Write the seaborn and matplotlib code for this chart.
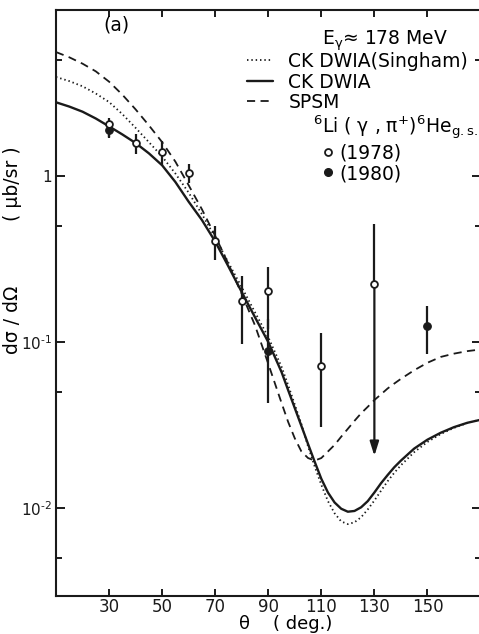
import numpy as np
import pandas as pd
import matplotlib
matplotlib.use("Agg")
import matplotlib.pyplot as plt
import seaborn as sns
from matplotlib.ticker import LogLocator, NullFormatter, FixedLocator, FixedFormatter
from matplotlib.lines import Line2D

# ---------------- data ----------------
theta_curve = [10, 15, 20, 25, 30, 35, 40, 45, 50, 55, 60, 65, 70, 75, 80, 85, 90, 95,
               97.5, 100, 102.5, 105, 107.5, 110, 112.5, 115, 117.5, 120, 122.5, 125,
               127.5, 130, 132.5, 135, 137.5, 140,
               145, 150, 155, 160, 165, 170]
ck_dwia_singham = [3.95, 3.73, 3.47, 3.14, 2.79, 2.36, 1.95, 1.60, 1.31, 1.035, 0.794, 0.589,
                   0.427, 0.300, 0.214, 0.151, 0.107, 0.071,
                   0.055, 0.042, 0.032, 0.0235, 0.0178, 0.0138, 0.0110, 0.0093, 0.0083, 0.0080,
                   0.0082, 0.0088, 0.0098, 0.0111, 0.0127, 0.0145, 0.0163, 0.0181,
                   0.0217, 0.0250, 0.0279, 0.0304, 0.0325, 0.0341]
ck_dwia = [2.78, 2.62, 2.44, 2.22, 1.99, 1.78, 1.58, 1.37, 1.16, 0.92, 0.70, 0.543,
           0.403, 0.285, 0.200, 0.141, 0.100, 0.066,
           0.0513, 0.040, 0.0312, 0.0243, 0.0190, 0.0150, 0.0124, 0.0108, 0.0099, 0.0095,
           0.0096, 0.0101, 0.0110, 0.0124, 0.0141, 0.0158, 0.0176, 0.0193,
           0.0228, 0.0258, 0.0284, 0.0307, 0.0326, 0.0340]
spsm = [5.58, 5.19, 4.75, 4.27, 3.70, 3.09, 2.52, 2.02, 1.60, 1.22, 0.88, 0.63,
        0.436, 0.295, 0.195, 0.126, 0.074, 0.043,
        0.033, 0.0263, 0.0219, 0.0200, 0.0193, 0.0200, 0.0219, 0.0240, 0.0269, 0.030,
        0.0335, 0.0372, 0.0407, 0.0447, 0.0484, 0.0525, 0.0562, 0.060,
        0.0676, 0.075, 0.0813, 0.0851, 0.0881, 0.0902]

theta_1978 = [30, 40, 50, 60, 70, 80, 90, 110, 130]
xs_1978 = [2.05, 1.58, 1.39, 1.04, 0.405, 0.177, 0.203, 0.0716, 0.224]
lo_1978 = [1.72, 1.36, 1.16, 0.91, 0.31, 0.097, 0.12, 0.0308, 0.0206]
hi_1978 = [2.25, 1.79, 1.62, 1.18, 0.50, 0.25, 0.283, 0.113, 0.513]
arrow_1978 = [False, False, False, False, False, False, False, False, True]

theta_1980 = [30, 90, 150]
xs_1980 = [1.90, 0.088, 0.125]
lo_1980 = [1.70, 0.043, 0.085]
hi_1980 = [2.15, 0.138, 0.165]

x_ticks = [30, 50, 70, 90, 110, 130, 150]
y_ticks = [1e-2, 1e-1, 1.0]
y_tick_labels = ["$10^{\u20102}$", "$10^{\u20101}$", "1"]

curve_labels = ["CK DWIA(Singham)", "CK DWIA", "SPSM"]
data_labels = ["(1978)", "(1980)"]

# ---------------- style ----------------
sns.set_theme(style="ticks")
plt.rcParams["font.family"] = ["DejaVu Sans"]
plt.rcParams["mathtext.default"] = "regular"
plt.rcParams["axes.linewidth"] = 1.5
for k in ["text.color", "axes.labelcolor", "xtick.color", "ytick.color",
          "axes.edgecolor", "xtick.labelcolor", "ytick.labelcolor"]:
    plt.rcParams[k] = "black"
FS = 13.5

W, H = 479, 634
fig = plt.figure(figsize=(W / 100, H / 100), dpi=100)
fig.patch.set_facecolor("white")
ax = fig.add_axes([56 / W, 38 / H, 424.5 / W, 586 / H])
ax.set_facecolor("white")
ax.set_yscale("log")

df = pd.DataFrame({"theta": theta_curve, "singham": ck_dwia_singham,
                   "ckdwia": ck_dwia, "spsm": spsm})

DOT = (0, (0.8, 1.6))
DASH = (0, (4.5, 3.0))
sns.lineplot(data=df, x="theta", y="singham", ax=ax, color="k", lw=1.3,
             linestyle=DOT, estimator=None)
sns.lineplot(data=df, x="theta", y="ckdwia", ax=ax, color="k", lw=1.7,
             estimator=None)
sns.lineplot(data=df, x="theta", y="spsm", ax=ax, color="k", lw=1.3,
             linestyle=DASH, estimator=None)

# error bars
t78 = np.array(theta_1978, float)
v78 = np.array(xs_1978)
l78 = np.array(lo_1978)
h78 = np.array(hi_1978)
arr = np.array(arrow_1978)
lower = np.where(arr, 0.0, v78 - l78)
ax.errorbar(t78, v78, yerr=[lower, h78 - v78], fmt="none", ecolor="k",
            elinewidth=1.6, capsize=0, zorder=3)
for x, y, lo, a in zip(t78, v78, l78, arr):
    if a:
        ax.annotate("", xy=(x, lo), xytext=(x, y),
                    arrowprops=dict(arrowstyle="-|>,head_length=0.7,head_width=0.22",
                                    color="k", lw=1.6, shrinkA=0, shrinkB=0),
                    zorder=3)

t80 = np.array(theta_1980, float)
v80 = np.array(xs_1980)
ax.errorbar(t80, v80, yerr=[v80 - np.array(lo_1980), np.array(hi_1980) - v80],
            fmt="none", ecolor="k", elinewidth=1.6, capsize=0, zorder=3)

sns.scatterplot(x=t80, y=v80, ax=ax, marker="o", s=30, color="k",
                edgecolor="k", linewidth=0.8, zorder=4)
sns.scatterplot(x=t78, y=v78, ax=ax, marker="o", s=24, facecolor="white",
                edgecolor="k", linewidth=1.3, zorder=5)

# axes
ax.set_xlim(10, 170)
ax.set_ylim(10 ** -2.53, 10)
ax.xaxis.set_major_locator(FixedLocator(x_ticks))
ax.yaxis.set_major_locator(FixedLocator(y_ticks))
ax.yaxis.set_major_formatter(FixedFormatter(y_tick_labels))
ax.yaxis.set_minor_locator(LogLocator(base=10, subs=[5.0]))
ax.yaxis.set_minor_formatter(NullFormatter())
ax.xaxis.set_minor_locator(FixedLocator([]))
ax.tick_params(which="both", direction="in", top=True, right=True, width=1.4,
               colors="k")
ax.tick_params(axis="y", which="major", length=6.5, pad=3, labelsize=11)
ax.tick_params(axis="y", which="minor", length=4.5)
ax.tick_params(axis="x", which="major", length=5, pad=1.5, labelsize=12)
ax.set_xlabel("")
ax.set_ylabel("")
for s in ax.spines.values():
    s.set_color("k")
    s.set_linewidth(1.5)
ax.spines["right"].set_visible(False)

# labels
fig.text(13 / W, 1 - 184 / H, "( μb/sr )", rotation=90,
         ha="center", va="center", fontsize=13.5)
fig.text(13 / W, 1 - 320 / H, "dσ / dΩ", rotation=90,
         ha="center", va="center", fontsize=13.5)
fig.text(239 / W, 1 - 624 / H, "θ    ( deg.)", ha="left", va="center", fontsize=13)
fig.text(103 / W, 1 - 25 / H, "(a)", ha="left", va="center", fontsize=FS)
fig.text(322 / W, 1 - 41 / H, r"E$_{\gamma}$≈ 178 MeV", ha="left", va="center",
         fontsize=FS)

# legends
handles1 = [Line2D([], [], color="k", lw=1.3, linestyle=DOT),
            Line2D([], [], color="k", lw=1.7),
            Line2D([], [], color="k", lw=1.3, linestyle=DASH)]
leg1 = fig.legend(handles1, curve_labels, loc="upper left",
                  bbox_to_anchor=(247 / W, 1 - 52 / H), bbox_transform=fig.transFigure,
                  frameon=False, fontsize=FS, borderpad=0, borderaxespad=0,
                  handlelength=1.4, handletextpad=0.8, labelspacing=0.08)

handles2 = [Line2D([], [], marker="o", ls="none", markersize=5, mfc="white",
                   mec="k", mew=1.3),
            Line2D([], [], marker="o", ls="none", markersize=5.5, mfc="k", mec="k")]
leg2 = fig.legend(handles2, data_labels, loc="upper left",
                  bbox_to_anchor=(313 / W, 1 - 114 / H), bbox_transform=fig.transFigure,
                  frameon=False, fontsize=FS, borderpad=0, borderaxespad=0,
                  handlelength=1.65, handletextpad=-0.26, labelspacing=0.08,
                  title=r"$^6$Li ( $\gamma$ , $\pi^{+}$)$^6$He$_{g.s.}$",
                  title_fontsize=FS, alignment="left")

fig.savefig("out.png", dpi=100, facecolor="white")
